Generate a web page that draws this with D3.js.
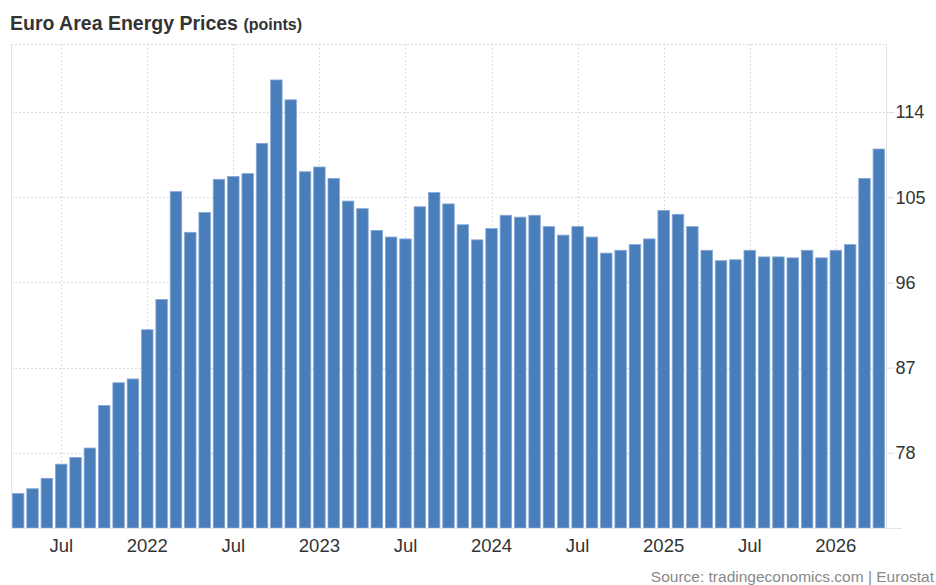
<!DOCTYPE html>
<html>
<head>
<meta charset="utf-8">
<title>Euro Area Energy Prices</title>
<script src="https://cdn.jsdelivr.net/npm/d3@7"></script>
<style>
body { margin: 0; background: #fff; }
svg { display: block; font-family: "Liberation Sans", Arial, sans-serif; }
</style>
</head>
<body>
<svg id="chart" width="936" height="585"></svg>
<script>
// monthly categories, Apr 2021 .. Apr 2026
var months = [
  "2021-04","2021-05","2021-06","2021-07","2021-08","2021-09","2021-10","2021-11","2021-12",
  "2022-01","2022-02","2022-03","2022-04","2022-05","2022-06","2022-07","2022-08","2022-09","2022-10","2022-11","2022-12",
  "2023-01","2023-02","2023-03","2023-04","2023-05","2023-06","2023-07","2023-08","2023-09","2023-10","2023-11","2023-12",
  "2024-01","2024-02","2024-03","2024-04","2024-05","2024-06","2024-07","2024-08","2024-09","2024-10","2024-11","2024-12",
  "2025-01","2025-02","2025-03","2025-04","2025-05","2025-06","2025-07","2025-08","2025-09","2025-10","2025-11","2025-12",
  "2026-01","2026-02","2026-03","2026-04"
];
var values = [
  73.7, 74.2, 75.3, 76.8, 77.5, 78.5, 83.0, 85.4, 85.8,
  91.0, 94.2, 105.6, 101.3, 103.4, 106.9, 107.2, 107.5, 110.7, 117.4, 115.3, 107.7,
  108.2, 107.0, 104.6, 103.8, 101.5, 100.8, 100.6, 104.0, 105.5, 104.3, 102.1, 100.5,
  101.7, 103.1, 102.9, 103.1, 101.9, 101.0, 101.9, 100.8, 99.1, 99.4, 100.0, 100.6,
  103.6, 103.2, 101.9, 99.4, 98.3, 98.4, 99.4, 98.7, 98.7, 98.6, 99.4, 98.6,
  99.4, 100.0, 107.0, 110.1
];
var tickMonths = ["2021-07","2022-01","2022-07","2023-01","2023-07","2024-01","2024-07","2025-01","2025-07","2026-01"];
var tickLabels = ["Jul","2022","Jul","2023","Jul","2024","Jul","2025","Jul","2026"];
var yTicks = [78, 87, 96, 105, 114];

var svg = d3.select("#chart");
var plotLeft = 11, plotRight = 886, plotTop = 44, plotBottom = 528;

var x = d3.scaleBand()
  .domain(months)
  .range([plotLeft, plotRight])
  .paddingInner(0.2)
  .paddingOuter(0.1);

var y = d3.scaleLinear()
  .domain([70.05, 121.2])
  .range([plotBottom, plotTop]);

// grid: horizontal (ticks plus the top edge)
svg.append("g")
  .selectAll("line")
  .data(yTicks.concat([121.2]))
  .enter().append("line")
  .attr("x1", plotLeft).attr("x2", plotRight)
  .attr("y1", function(d) { return Math.round(y(d)) + 0.5; })
  .attr("y2", function(d) { return Math.round(y(d)) + 0.5; })
  .attr("stroke", "#dcdcdc")
  .attr("stroke-dasharray", "2,2");

// grid: vertical
svg.append("g")
  .selectAll("line")
  .data(tickMonths)
  .enter().append("line")
  .attr("x1", function(d) { return Math.round(x(d) + x.bandwidth() / 2) + 0.5; })
  .attr("x2", function(d) { return Math.round(x(d) + x.bandwidth() / 2) + 0.5; })
  .attr("y1", plotTop).attr("y2", plotBottom)
  .attr("stroke", "#dcdcdc")
  .attr("stroke-dasharray", "2,2");

// left frame line
svg.append("line")
  .attr("x1", plotLeft + 0.5).attr("x2", plotLeft + 0.5)
  .attr("y1", plotTop).attr("y2", plotBottom)
  .attr("stroke", "#e3e3e3");

// bars
svg.append("g")
  .selectAll("rect")
  .data(values)
  .enter().append("rect")
  .attr("x", function(d, i) { return x(months[i]); })
  .attr("y", function(d) { return y(d); })
  .attr("width", x.bandwidth())
  .attr("height", function(d) { return plotBottom - y(d); })
  .attr("fill", "#4a7ebb")
  .attr("stroke", "#86a8d6")
  .attr("stroke-width", 0.8);

// right y axis
var yAxis = d3.axisRight(y)
  .tickValues(yTicks)
  .tickSize(8)
  .tickPadding(1)
  .tickFormat(d3.format("d"));
var gy = svg.append("g")
  .attr("transform", "translate(" + (plotRight + 0.5) + ",0)")
  .call(yAxis);
gy.select(".domain").attr("stroke", "#e3e3e3").attr("d", "M0," + plotTop + "V" + plotBottom);
gy.selectAll(".tick line").attr("stroke", "#dcdcdc");
gy.selectAll(".tick text").attr("fill", "#333").style("font-size", "18px");

// bottom x axis
var labelOf = {};
tickMonths.forEach(function(m, i) { labelOf[m] = tickLabels[i]; });
var xAxis = d3.axisBottom(x)
  .tickValues(tickMonths)
  .tickSize(0)
  .tickPadding(10)
  .tickFormat(function(d) { return labelOf[d]; });
var gx = svg.append("g")
  .attr("transform", "translate(0," + (plotBottom + 0.5) + ")")
  .call(xAxis);
gx.select(".domain").attr("stroke", "#e3e3e3").attr("d", "M" + plotLeft + ",0H" + 902);
gx.selectAll(".tick text").attr("fill", "#333").style("font-size", "18.5px");

// title
var title = svg.append("text")
  .attr("x", 10).attr("y", 30)
  .attr("fill", "#333")
  .style("font-weight", "bold");
title.append("tspan").style("font-size", "19.5px").text("Euro Area Energy Prices ");
title.append("tspan").style("font-size", "16px").text("(points)");

// source
svg.append("text")
  .attr("x", 934).attr("y", 582)
  .attr("text-anchor", "end")
  .attr("fill", "#888")
  .style("font-size", "15.5px")
  .text("Source: tradingeconomics.com | Eurostat");
</script>
</body>
</html>
